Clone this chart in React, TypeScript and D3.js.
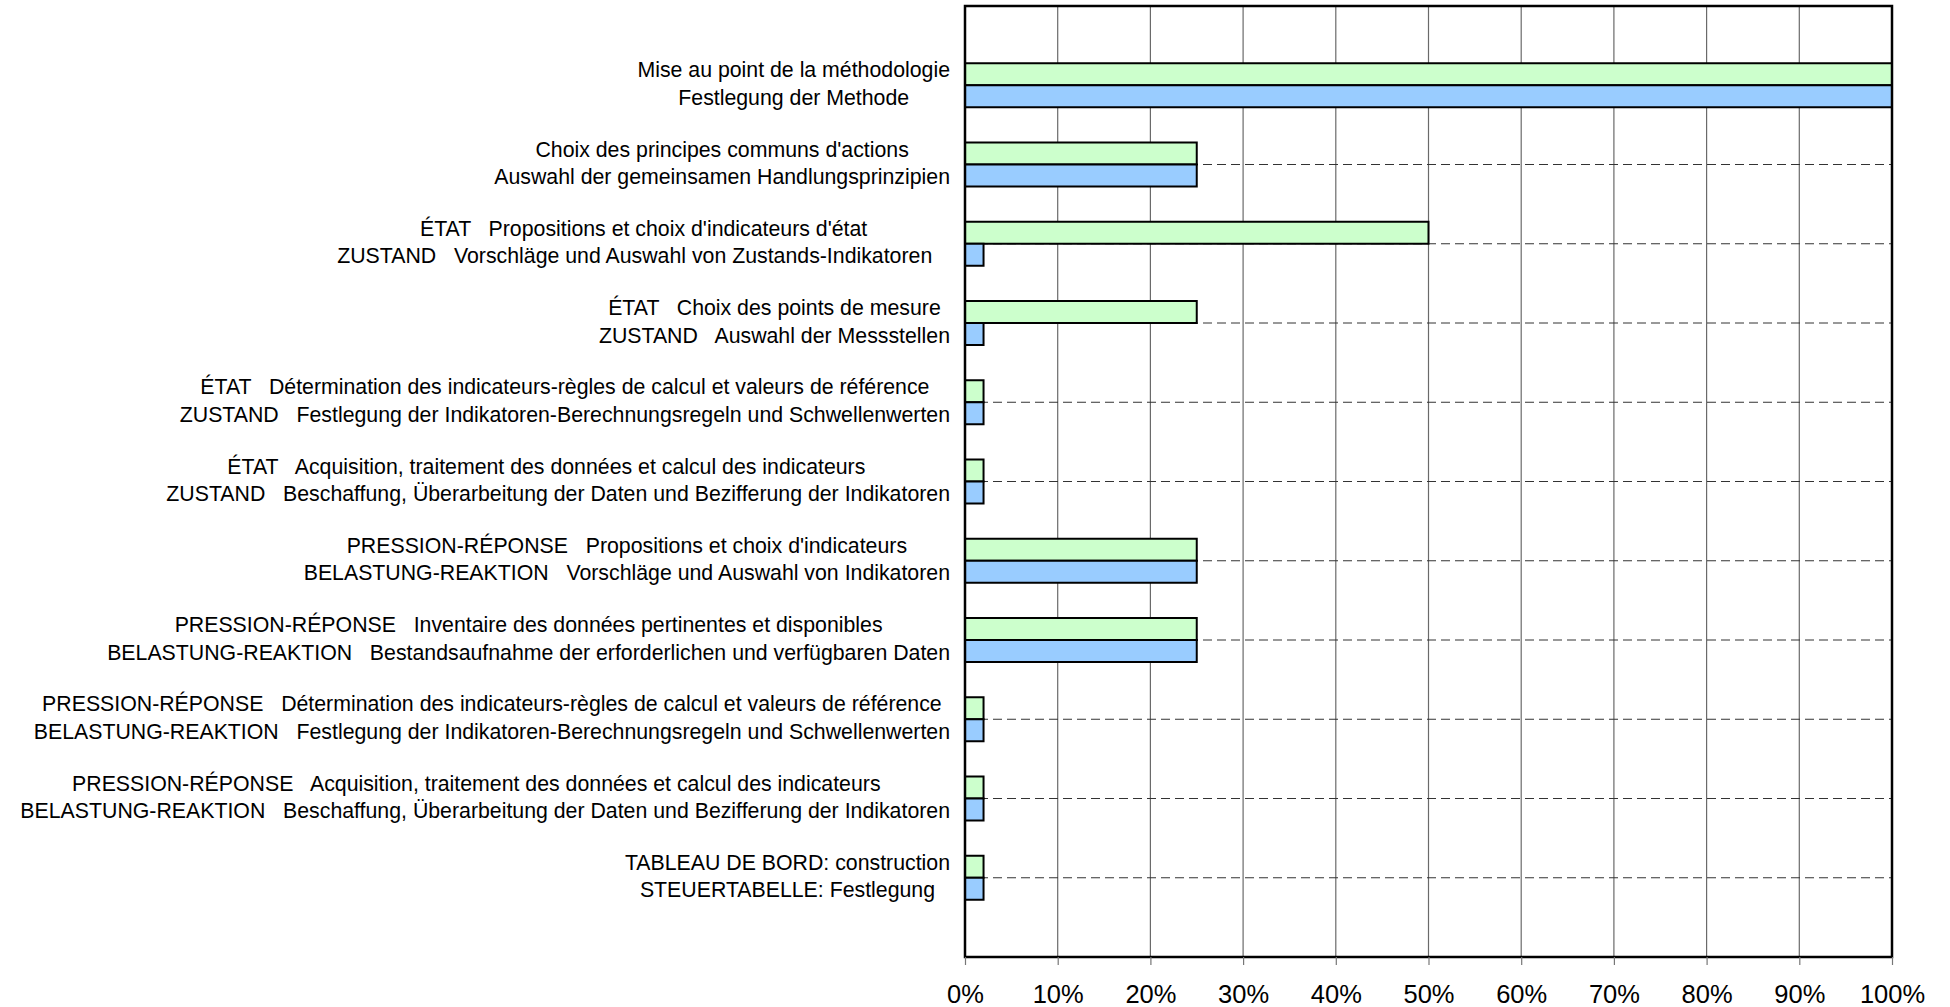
import React, { useEffect, useRef } from 'react';
import * as d3 from 'd3';

// labels: french line on top, german line below
const frLabels = [
  "Mise au point de la méthodologie",
  "Choix des principes communs d'actions",
  "ÉTAT   Propositions et choix d'indicateurs d'état",
  "ÉTAT   Choix des points de mesure",
  "ÉTAT   Détermination des indicateurs-règles de calcul et valeurs de référence",
  "ÉTAT   Acquisition, traitement des données et calcul des indicateurs    ",
  "PRESSION-RÉPONSE   Propositions et choix d'indicateurs",
  "PRESSION-RÉPONSE   Inventaire des données pertinentes et disponibles",
  "PRESSION-RÉPONSE   Détermination des indicateurs-règles de calcul et valeurs de référence",
  "PRESSION-RÉPONSE   Acquisition, traitement des données et calcul des indicateurs   ",
  "TABLEAU DE BORD: construction",
];
const deLabels = [
  "Festlegung der Methode",
  "Auswahl der gemeinsamen Handlungsprinzipien",
  "ZUSTAND   Vorschläge und Auswahl von Zustands-Indikatoren   ",
  "ZUSTAND   Auswahl der Messstellen",
  "ZUSTAND   Festlegung der Indikatoren-Berechnungsregeln und Schwellenwerten",
  "ZUSTAND   Beschaffung, Überarbeitung der Daten und Bezifferung der Indikatoren",
  "BELASTUNG-REAKTION   Vorschläge und Auswahl von Indikatoren",
  "BELASTUNG-REAKTION   Bestandsaufnahme der erforderlichen und verfügbaren Daten",
  "BELASTUNG-REAKTION   Festlegung der Indikatoren-Berechnungsregeln und Schwellenwerten",
  "BELASTUNG-REAKTION   Beschaffung, Überarbeitung der Daten und Bezifferung der Indikatoren",
  "STEUERTABELLE: Festlegung",
];

// green = upper bar, blue = lower bar (percent)
const greenValues = [100, 25, 50, 25, 2, 2, 25, 25, 2, 2, 2];
const blueValues = [100, 25, 2, 2, 2, 2, 25, 25, 2, 2, 2];

const tickValues = [0, 10, 20, 30, 40, 50, 60, 70, 80, 90, 100];

function App() {
  const ref = useRef<SVGSVGElement>(null);

  useEffect(() => {
    const svg = d3.select(ref.current);
    svg.selectAll("*").remove();

    const width = 1950;
    const height = 1007;
    const margin = { top: 6, left: 965, bottom: 50, right: 58 };
    const iwidth = width - margin.left - margin.right;
    const iheight = height - margin.top - margin.bottom;
    const font = "'Liberation Sans', Arial, sans-serif";

    const g = svg.append("g").attr("transform", `translate(${margin.left},${margin.top})`);

    const x = d3.scaleLinear().domain([0, 100]).range([0, iwidth]);
    const y = d3.scalePoint<number>()
      .domain(frLabels.map((_, i) => i))
      .range([0, iheight])
      .padding(1);
    const barH = 22;

    // vertical grid
    g.selectAll(".grid")
      .data(tickValues.slice(1, -1))
      .enter().append("line")
      .attr("x1", d => x(d)).attr("x2", d => x(d))
      .attr("y1", 0).attr("y2", iheight)
      .attr("stroke", "#6a6a6a")
      .attr("stroke-width", 1.2);

    // dashed lines at category centres
    g.selectAll(".dash")
      .data(frLabels.map((_, i) => i))
      .enter().append("line")
      .attr("x1", 0).attr("x2", iwidth)
      .attr("y1", d => y(d)!).attr("y2", d => y(d)!)
      .attr("stroke", "#333")
      .attr("stroke-width", 1)
      .attr("stroke-dasharray", "9,5");

    g.selectAll(".green")
      .data(greenValues)
      .enter().append("rect")
      .attr("x", 0)
      .attr("y", (_, i) => y(i)! - barH)
      .attr("width", d => x(d))
      .attr("height", barH)
      .style("fill", "#CCFFCC")
      .attr("stroke", "#000")
      .attr("stroke-width", 2);

    g.selectAll(".blue")
      .data(blueValues)
      .enter().append("rect")
      .attr("x", 0)
      .attr("y", (_, i) => y(i)!)
      .attr("width", d => x(d))
      .attr("height", barH)
      .style("fill", "#99CCFF")
      .attr("stroke", "#000")
      .attr("stroke-width", 2);

    // plot border
    g.append("rect")
      .attr("x", 0).attr("y", 0)
      .attr("width", iwidth).attr("height", iheight)
      .attr("fill", "none")
      .attr("stroke", "#000")
      .attr("stroke-width", 2.5);

    const axis = g.append("g")
      .attr("transform", `translate(0, ${iheight})`)
      .call(d3.axisBottom(x).tickValues(tickValues).tickSize(8).tickPadding(20).tickFormat(d => d + "%"));
    axis.select(".domain").remove();
    axis.selectAll(".tick line").attr("stroke", "#777").attr("stroke-width", 1.2);
    axis.selectAll(".tick text")
      .attr("font-family", font)
      .attr("font-size", 25.5)
      .attr("fill", "#000");

    // category labels, two centred lines, right edge against the axis
    frLabels.forEach((fr, i) => {
      const lg = g.append("g");
      const lines = [fr, deLabels[i]];
      const texts = lines.map((t, k) =>
        lg.append("text")
          .attr("xml:space", "preserve")
          .style("white-space", "pre")
          .attr("text-anchor", "middle")
          .attr("font-family", font)
          .attr("font-size", 21.3)
          .attr("fill", "#000")
          .attr("y", y(i)! + (k === 0 ? -8 : 19.5))
          .text(t)
      );
      const maxW = d3.max(texts, t => (t.node() as SVGTextElement).getComputedTextLength()) || 0;
      lg.attr("transform", `translate(${-15 - maxW / 2},0)`);
    });
  }, []);

  return (
    <svg ref={ref} width={1950} height={1007}
      style={{ position: 'absolute', left: 0, top: 0, background: '#fff' }} />
  );
}

export default App;
